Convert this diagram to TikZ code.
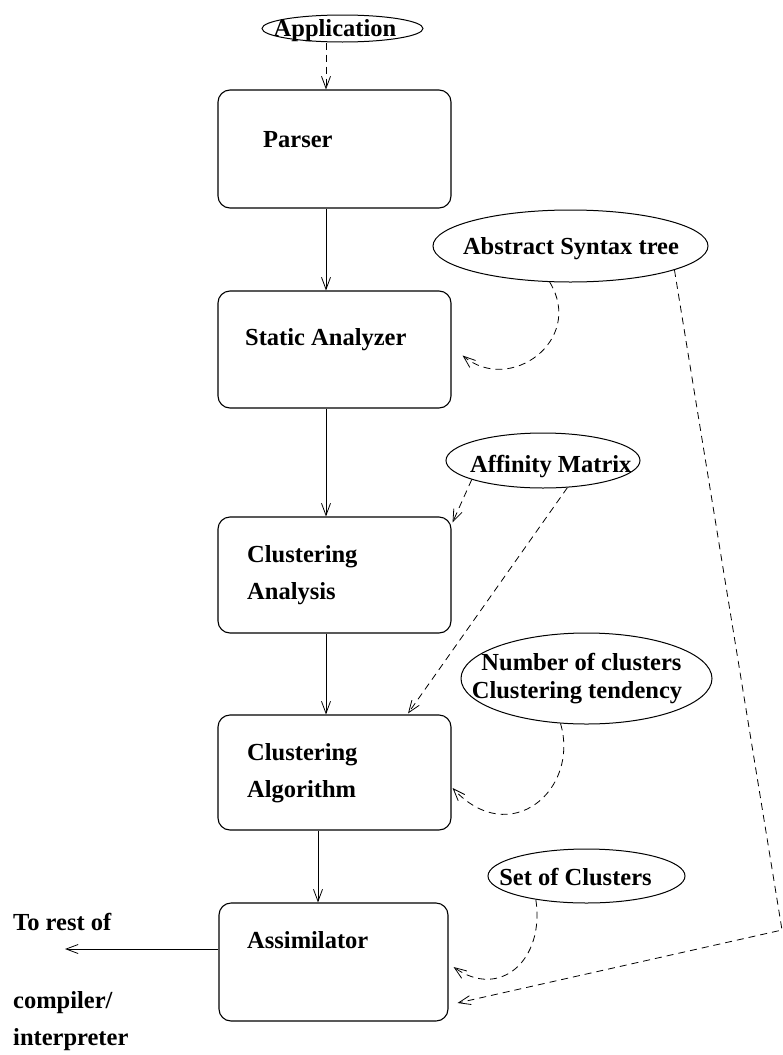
\documentclass[tikz,border=0pt]{standalone}
\usepackage{fontspec}
\setmainfont{Liberation Serif}
\usetikzlibrary{shapes.geometric,arrows.meta,calc}
\begin{document}
\begin{tikzpicture}[x=1pt,y=-1pt,
  stage/.style={draw, rounded corners=12pt, line width=1.1pt, inner sep=0pt},
  bubble/.style={draw, ellipse, line width=1pt, inner sep=0pt},
  lbl/.style={inner sep=0pt, font=\fontsize{24.5}{29}\selectfont\bfseries},
  flow/.style={line width=0.8pt, -{Straight Barb[length=12pt,width=9pt]}},
  data/.style={flow, dash pattern=on 7pt off 5pt},
]
\path[use as bounding box] (0,0) rectangle (783,1055);

% processing stages
\node[stage, minimum width=233, minimum height=118] (parser)    at (334.5,149)   {};
\node[stage, minimum width=233, minimum height=117] (static)    at (334.5,349.5) {};
\node[stage, minimum width=233, minimum height=116] (analysis)  at (334.5,575)   {};
\node[stage, minimum width=233, minimum height=115] (algorithm) at (334.5,772.5) {};
\node[stage, minimum width=229, minimum height=118] (assim)     at (333.5,962)   {};

\node[lbl, anchor=base west] (parserT)     at (263,147)  {Parser};
\node[lbl, anchor=base west] (staticT)     at (245,345)  {Static Analyzer};
\node[lbl, anchor=base west] (analysisT1)  at (247,562)  {Clustering};
\node[lbl, anchor=base west] (analysisT2)  at (247,599)  {Analysis};
\node[lbl, anchor=base west] (algorithmT1) at (247,760)  {Clustering};
\node[lbl, anchor=base west] (algorithmT2) at (247,797)  {Algorithm};
\node[lbl, anchor=base west] (assimT)      at (247,948)  {Assimilator};
\node[lbl, anchor=base west] (restT1)      at (13,930)   {To rest of};
\node[lbl, anchor=base west] (restT2)      at (13,1008)  {compiler/};
\node[lbl, anchor=base west] (restT3)      at (13,1045)  {interpreter};

% data items
\node[bubble, minimum width=161, minimum height=27] (app) at (342.5,28.5) {};
\node[lbl, anchor=base] (appT) at (335,36) {Application};
\node[bubble, minimum width=275, minimum height=72] (ast) at (570.5,246) {};
\node[lbl, anchor=base] (astT) at (571,254) {Abstract Syntax tree};
\node[bubble, minimum width=194, minimum height=55] (aff) at (543,460.5) {};
\node[lbl, anchor=base west] (affT) at (470,472) {Affinity Matrix};
\node[bubble, minimum width=251, minimum height=91] (num) at (586.5,678.5) {};
\node[lbl, anchor=base] (numT1) at (581.5,670) {Number of clusters};
\node[lbl, anchor=base] (numT2) at (577,698) {Clustering tendency};
\node[bubble, minimum width=197, minimum height=54] (set) at (586.5,876) {};
\node[lbl, anchor=base] (setT) at (575.5,885) {Set of Clusters};

% main flow
\coordinate (col) at (326,0);
\coordinate (col2) at (318,0);
\coordinate (out) at (65,949);
\coordinate (bend) at (782,930);
\draw[data] (app.south -| col) -- (parser.north -| col);
\draw[flow] (parser.south -| col) -- (static.north -| col);
\draw[flow] (static.south -| col) -- (analysis.north -| col);
\draw[flow] (analysis.south -| col) -- (algorithm.north -| col);
\draw[flow] (algorithm.south -| col2) -- (assim.north -| col2);
\draw[flow] (assim.west |- out) -- (out);

% data inputs
\draw[data] (ast.-120) .. controls (585,340) and (510,395) .. ($(static.east)+(11,6)$);
\draw[data] (ast.-13) -- (bend) -- ($(assim.east)+(9,41)$);
\draw[data] (aff.-165) -- ($(analysis.north east)+(1,6)$);
\draw[data] (aff.-48) -- ($(algorithm.north)+(73.5,-1)$);
\draw[data] (num.-120) .. controls (580,790) and (510,850) .. ($(algorithm.east)+(1,15.5)$);
\draw[data] (set.-155) .. controls (545,960) and (500,1000) .. ($(assim.east)+(5,5)$);
\end{tikzpicture}
\end{document}
